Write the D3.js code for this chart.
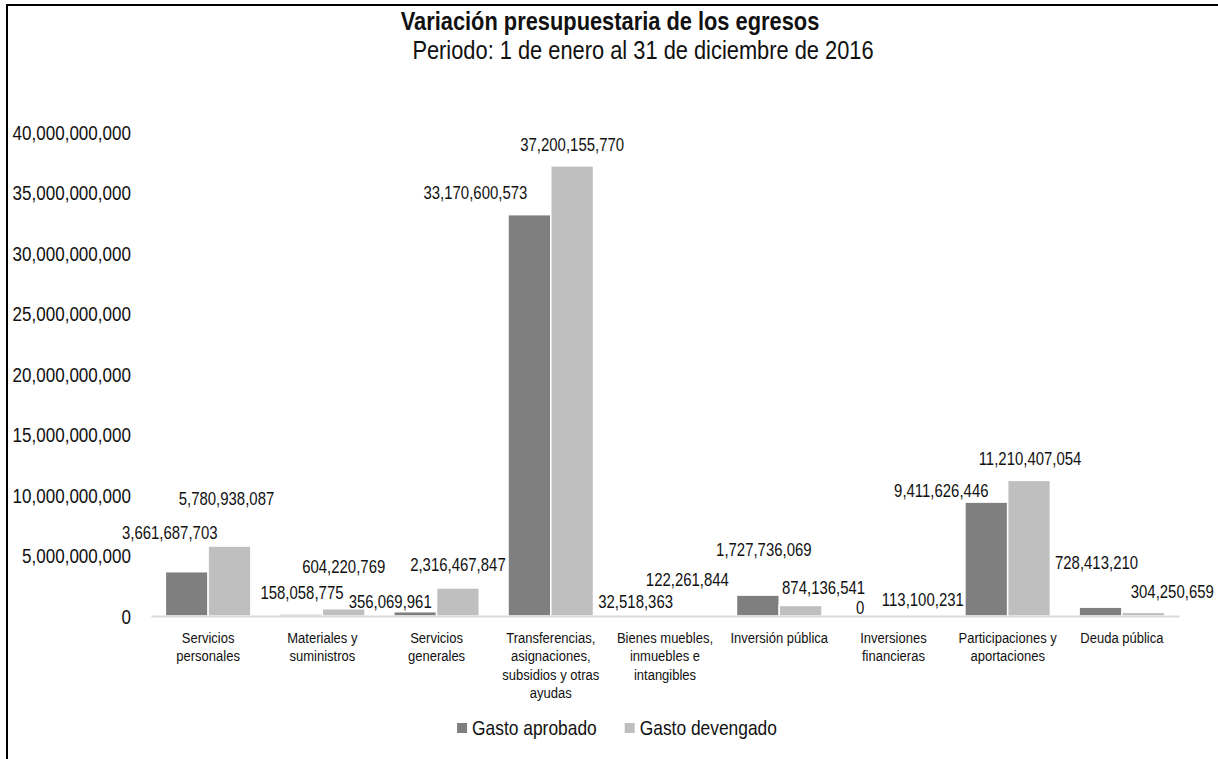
<!DOCTYPE html>
<html>
<head>
<meta charset="utf-8">
<script src="https://cdn.jsdelivr.net/npm/d3@7"></script>
<style>
  html, body { margin: 0; padding: 0; background: #fff; }
  svg { display: block; }
  text { font-family: "Liberation Sans", Arial, sans-serif; fill: #111; }
</style>
</head>
<body>
<svg id="chart" width="1218" height="759"></svg>
<script>
// ---- data ----
const categories = [
  "Servicios personales",
  "Materiales y suministros",
  "Servicios generales",
  "Transferencias, asignaciones, subsidios y otras ayudas",
  "Bienes muebles, inmuebles e intangibles",
  "Inversión pública",
  "Inversiones financieras",
  "Participaciones y aportaciones",
  "Deuda pública"
];
const seriesNames = ["Gasto aprobado", "Gasto devengado"];
const gastoAprobado = [3661687703, 158058775, 356069961, 33170600573, 32518363, 1727736069, 0, 9411626446, 728413210];
const gastoDevengado = [5780938087, 604220769, 2316467847, 37200155770, 122261844, 874136541, 113100231, 11210407054, 304250659];
const yTicks = [0, 5e9, 10e9, 15e9, 20e9, 25e9, 30e9, 35e9, 40e9];
const title = "Variación presupuestaria de los egresos";
const subtitle = "Periodo: 1 de enero al 31 de diciembre de 2016";
// label nudges (dx, dy) relative to the top-centre of each bar, as placed in the original
const nudgeAprobado = [[-17,-39],[1,-21],[-25,-10],[-54,-22],[-8,-14],[6,-45],[-12,-8],[-45,-11],[-4,-44]];
const nudgeDevengado = [[-3,-47],[0,-42],[0,-23],[0,-21],[1,-35],[23,-18],[8,-15],[1,-22],[29,-21]];

// ---- layout ----
const W = 1218, H = 759;
const K = 0.84; // horizontal condensation of the original typography
const colors = ["#7f7f7f", "#bfbfbf"];
const svg = d3.select("#chart");

const plot = { left: 151, right: 1179, top: 132, bottom: 616 };

const x = d3.scaleBand().domain(categories).range([plot.left, plot.right]).padding(0);
const x1 = d3.scaleBand().domain(seriesNames).range([0, x.bandwidth()]).paddingInner(0).paddingOuter(0.336);
const y = d3.scaleLinear().domain([0, 40e9]).range([plot.bottom, plot.top]);

const fmt = d3.format(",");

function condensedText(sel, size, anchor, weight) {
  return sel.append("text")
    .attr("font-size", size)
    .attr("text-anchor", anchor || "middle")
    .attr("font-weight", weight || "normal");
}
function place(t, px, py) {
  t.attr("transform", `translate(${px},${py}) scale(${K},1)`);
  return t;
}

// frame (top and left edges visible in the crop)
svg.append("line").attr("x1", 6).attr("x2", W).attr("y1", 5).attr("y2", 5)
  .attr("stroke", "#000").attr("stroke-width", 2);
svg.append("line").attr("x1", 7).attr("x2", 7).attr("y1", 4).attr("y2", H)
  .attr("stroke", "#000").attr("stroke-width", 2);

// title
place(condensedText(svg, 26, "middle", "bold").text(title), 610, 30);
place(condensedText(svg, 26, "middle").text(subtitle), 643, 59);

// y axis labels (no axis line)
const yAxis = d3.axisLeft(y).tickValues(yTicks).tickFormat(fmt).tickSize(0).tickPadding(0);
const gy = svg.append("g").attr("transform", `translate(131,0)`).call(yAxis);
gy.select(".domain").remove();
gy.selectAll(".tick text")
  .attr("font-size", 20.3)
  .attr("font-family", "Liberation Sans, Arial, sans-serif")
  .attr("fill", "#111")
  .attr("x", 0)
  .attr("dy", "0.35em")
  .attr("transform", `scale(${K},1)`);

// bars
const series = [gastoAprobado, gastoDevengado];
const nudges = [nudgeAprobado, nudgeDevengado];
series.forEach((vals, si) => {
  const g = svg.append("g");
  g.selectAll("rect").data(vals).join("rect")
    .attr("x", (d, i) => x(categories[i]) + x1(seriesNames[si]))
    .attr("width", x1.bandwidth())
    .attr("y", d => y(d))
    .attr("height", d => y(0) - y(d))
    .attr("fill", colors[si])
    .attr("stroke", "#fff")
    .attr("stroke-width", 1.5);
});

// baseline (category axis)
const xAxis = d3.axisBottom(x).tickSize(0).tickFormat("");
const gx = svg.append("g").attr("transform", `translate(0,${y(0)})`).call(xAxis);
gx.select(".domain").attr("stroke", "#d9d9d9").attr("stroke-width", 2);

// data labels
series.forEach((vals, si) => {
  vals.forEach((v, i) => {
    const bx = x(categories[i]) + x1(seriesNames[si]) + x1.bandwidth() / 2;
    const by = y(v);
    const [dx, dy] = nudges[si][i];
    place(condensedText(svg, 17.8, "middle").attr("dy", "0.35em").text(fmt(v)), bx + dx, by + dy);
  });
});

// category labels with wrapping
const maxLine = 104;
categories.forEach(cat => {
  const words = cat.split(" ");
  const lines = [];
  let cur = [];
  const probe = svg.append("text").attr("font-size", 15.5);
  words.forEach(w => {
    const trial = cur.concat([w]).join(" ");
    probe.text(trial);
    if (cur.length && probe.node().getComputedTextLength() * K > maxLine) {
      lines.push(cur.join(" "));
      cur = [w];
    } else {
      cur.push(w);
    }
  });
  if (cur.length) lines.push(cur.join(" "));
  probe.remove();
  const cxc = x(cat) + x.bandwidth() / 2;
  lines.forEach((ln, li) => {
    place(condensedText(svg, 15.5, "middle").text(ln), cxc, 643 + li * 18.4);
  });
});

// legend
const legendY = 728;
const items = seriesNames.map((n, i) => ({ name: n, color: colors[i] }));
const lg = svg.append("g");
let widths = items.map(it => {
  const t = lg.append("text").attr("font-size", 20.7).text(it.name);
  const w = t.node().getComputedTextLength() * K;
  t.remove();
  return w;
});
const sq = 10, gapSq = 5, gapItem = 28;
const total = widths.reduce((a, b) => a + b, 0) + items.length * (sq + gapSq) + gapItem * (items.length - 1);
let lx = 617 - total / 2;
items.forEach((it, i) => {
  lg.append("rect").attr("x", lx).attr("y", legendY - sq / 2).attr("width", sq).attr("height", sq).attr("fill", it.color);
  place(condensedText(lg, 20.7, "start").attr("dy", "0.35em").text(it.name), lx + sq + gapSq, legendY);
  lx += sq + gapSq + widths[i] + gapItem;
});
</script>
</body>
</html>
